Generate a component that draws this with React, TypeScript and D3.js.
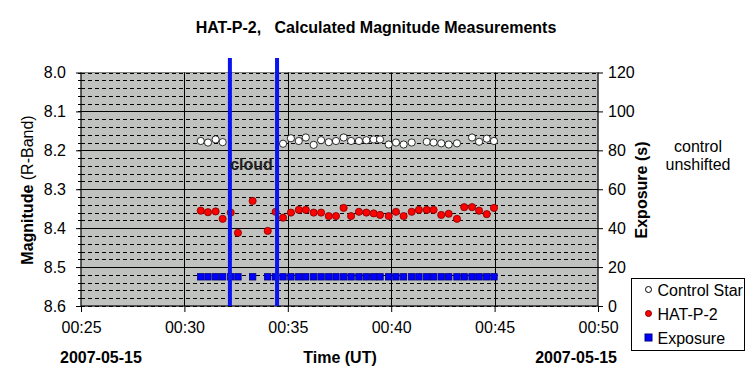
import { useEffect, useRef } from 'react';
import * as d3 from 'd3';

const WIDTH = 748;
const HEIGHT = 386;
const PLOT = { left: 81, right: 598, top: 72.5, bottom: 306 };
const FONT = '"Liberation Sans", Arial, sans-serif';

// observation times, minutes after 00:00 UT on 2007-05-15
const obsTimes = [
    30.79, 31.14, 31.51, 31.85, 32.24, 32.59, 33.3, 34.03, 34.41, 34.77, 35.15, 35.53, 35.87, 36.25, 36.61, 36.98,
    37.33, 37.7, 38.06, 38.44, 38.8, 39.15, 39.46, 39.88, 40.23, 40.6, 40.99, 41.34, 41.72, 42.05, 42.42, 42.78,
    43.18, 43.53, 43.91, 44.25, 44.62, 44.97,
];
const hatMag = [
    8.355, 8.359, 8.357, 8.376, 8.36, 8.412, 8.33, 8.407, 8.358, 8.373, 8.36, 8.353, 8.353, 8.36, 8.36, 8.369,
    8.369, 8.348, 8.369, 8.358, 8.36, 8.362, 8.366, 8.369, 8.358, 8.369, 8.358, 8.353, 8.353, 8.353, 8.366, 8.363,
    8.376, 8.346, 8.346, 8.355, 8.364, 8.348,
];
// control star, unshifted (null = no measurement)
const controlMag = [
    8.176, 8.18, 8.172, 8.179, null, null, null, null, null, 8.183, 8.169, 8.176, 8.167, 8.186, 8.174, 8.179,
    8.176, 8.167, 8.176, 8.176, 8.174, 8.172, 8.172, 8.185, 8.18, 8.185, 8.18, null, 8.178, 8.18, 8.182, 8.185,
    8.182, null, 8.167, 8.178, 8.17, 8.176,
];
const exposureSec = obsTimes.map(() => 15);
const cloudEdges = [32.2, 34.48];

const timeTicks = [25, 30, 35, 40, 45, 50];
const magTicks = [8.0, 8.1, 8.2, 8.3, 8.4, 8.5, 8.6];
const magMinor = d3.range(0, 31).map((i) => 8.0 + i * 0.02);
const expTicks = [0, 20, 40, 60, 80, 100, 120];

const fmtTime = (m: number) => `00:${d3.format('02d')(m)}`;

export default function App() {
    const leftRef = useRef<SVGGElement>(null);
    const rightRef = useRef<SVGGElement>(null);
    const bottomRef = useRef<SVGGElement>(null);

    const x = d3.scaleLinear().domain([25, 50]).range([PLOT.left, PLOT.right]);
    const yMag = d3.scaleLinear().domain([8.0, 8.6]).range([PLOT.top, PLOT.bottom]);
    const yExp = d3.scaleLinear().domain([0, 120]).range([PLOT.bottom, PLOT.top]);
    const py = (m: number) => Math.round(yMag(m)) + 0.5;

    useEffect(() => {
        const style = (g: d3.Selection<SVGGElement, unknown, null, undefined>) => {
            g.selectAll('text').attr('font-family', FONT).attr('font-size', 16).attr('fill', '#000');
            g.selectAll('line,path').attr('stroke', '#000');
            g.select('.domain').remove();
        };
        const left = d3.select(leftRef.current!);
        left.selectAll('*').remove();
        left.call(
            d3.axisLeft(yMag).tickValues(magTicks).tickSize(5).tickPadding(10).tickFormat(d3.format('.1f') as any)
        );
        style(left);

        const right = d3.select(rightRef.current!);
        right.selectAll('*').remove();
        right.call(d3.axisRight(yExp).tickValues(expTicks).tickSize(5).tickPadding(5));
        style(right);

        const bottom = d3.select(bottomRef.current!);
        bottom.selectAll('*').remove();
        bottom.call(
            d3.axisBottom(x).tickValues(timeTicks).tickSize(6).tickPadding(10).tickFormat((d) => fmtTime(+d))
        );
        style(bottom);
    }, []);

    return (
        <svg width={WIDTH} height={HEIGHT} style={{ position: 'absolute', left: 0, top: 0, background: '#fff' }}>
            <text x={376} y={33} textAnchor="middle" fontFamily={FONT} fontWeight="bold" fontSize={16}>
                HAT-P-2,{'\u00a0\u00a0\u00a0'}Calculated Magnitude Measurements
            </text>

            <rect
                x={PLOT.left}
                y={PLOT.top}
                width={PLOT.right - PLOT.left}
                height={PLOT.bottom - PLOT.top}
                fill="#c0c2bf"
                stroke="#808080"
            />

            {magMinor.map((m, i) => (
                <line key={'mn' + i} x1={PLOT.left} x2={PLOT.right} y1={py(m)} y2={py(m)} stroke="#000" strokeDasharray="4,3" />
            ))}
            {magMinor.map((m, i) => (
                <line key={'mt' + i} x1={PLOT.left - 3} x2={PLOT.left + 3} y1={py(m)} y2={py(m)} stroke="#000" />
            ))}
            {magTicks.slice(1, -1).map((m) => (
                <line key={'mj' + m} x1={PLOT.left} x2={PLOT.right} y1={py(m)} y2={py(m)} stroke="#000" />
            ))}
            {timeTicks.slice(1, -1).map((t) => (
                <line
                    key={'vt' + t}
                    x1={Math.round(x(t)) + 0.5}
                    x2={Math.round(x(t)) + 0.5}
                    y1={PLOT.top}
                    y2={PLOT.bottom}
                    stroke="#000"
                />
            ))}
            <line x1={PLOT.left} x2={PLOT.left} y1={PLOT.top} y2={PLOT.bottom} stroke="#000" />
            <line x1={PLOT.right} x2={PLOT.right} y1={PLOT.top} y2={PLOT.bottom} stroke="#000" />
            <line x1={PLOT.left} x2={PLOT.right} y1={PLOT.bottom} y2={PLOT.bottom} stroke="#000" />

            <g ref={leftRef} transform={`translate(${PLOT.left},0)`} />
            <g ref={rightRef} transform={`translate(${PLOT.right},0)`} />
            <g ref={bottomRef} transform={`translate(0,${PLOT.bottom})`} />

            {/* exposure */}
            {obsTimes.map((t, i) => (
                <rect
                    key={'e' + i}
                    x={x(t) - 3.2}
                    y={yExp(exposureSec[i]) - 3.2}
                    width={6.4}
                    height={6.4}
                    fill="#0000ff"
                    stroke="#000080"
                    strokeWidth={0.8}
                />
            ))}
            {/* HAT-P-2 */}
            {obsTimes.map((t, i) => (
                <circle
                    key={'h' + i}
                    cx={x(t)}
                    cy={yMag(hatMag[i])}
                    r={3.6}
                    fill="#ff0000"
                    stroke="#800000"
                    strokeWidth={0.8}
                />
            ))}
            {/* control star */}
            {obsTimes.map((t, i) =>
                controlMag[i] == null ? null : (
                    <circle
                        key={'c' + i}
                        cx={x(t)}
                        cy={yMag(controlMag[i] as number)}
                        r={3.6}
                        fill="#ffffff"
                        stroke="#000"
                        strokeWidth={0.8}
                    />
                )
            )}

            {cloudEdges.map((t) => (
                <line key={'cl' + t} x1={x(t)} x2={x(t)} y1={58} y2={PLOT.bottom} stroke="#0a14f0" strokeWidth={4} />
            ))}
            <text x={x(d3.mean(cloudEdges)!) - 2} y={170} textAnchor="middle" fontFamily={FONT} fontWeight="bold" fontSize={16} fill="#202020">
                cloud
            </text>

            <text transform="translate(33,190) rotate(-90)" textAnchor="middle" fontFamily={FONT} fontSize={16}>
                <tspan fontWeight="bold">Magnitude</tspan> (R-Band)
            </text>
            <text transform="translate(647,190) rotate(-90)" textAnchor="middle" fontFamily={FONT} fontSize={16} fontWeight="bold">
                Exposure (s)
            </text>
            <text x={698} y={152} textAnchor="middle" fontFamily={FONT} fontSize={16}>
                control
            </text>
            <text x={698} y={170} textAnchor="middle" fontFamily={FONT} fontSize={16}>
                unshifted
            </text>

            <text x={60} y={363} fontFamily={FONT} fontWeight="bold" fontSize={16}>
                2007-05-15
            </text>
            <text x={340} y={363} textAnchor="middle" fontFamily={FONT} fontWeight="bold" fontSize={16}>
                Time (UT)
            </text>
            <text x={617} y={363} textAnchor="end" fontFamily={FONT} fontWeight="bold" fontSize={16}>
                2007-05-15
            </text>

            <g transform="translate(631.5,278.5)" fontFamily={FONT} fontSize={16}>
                <rect width={113} height={72} fill="#fff" stroke="#000" />
                <circle cx={17} cy={11} r={3} fill="#fff" stroke="#000" />
                <text x={26} y={17}>Control Star</text>
                <circle cx={17} cy={35} r={3} fill="#ff0000" stroke="#800000" />
                <text x={26} y={41}>HAT-P-2</text>
                <rect x={13.5} y={55.5} width={7} height={7} fill="#0000ff" stroke="#000080" />
                <text x={26} y={65}>Exposure</text>
            </g>
        </svg>
    );
}
